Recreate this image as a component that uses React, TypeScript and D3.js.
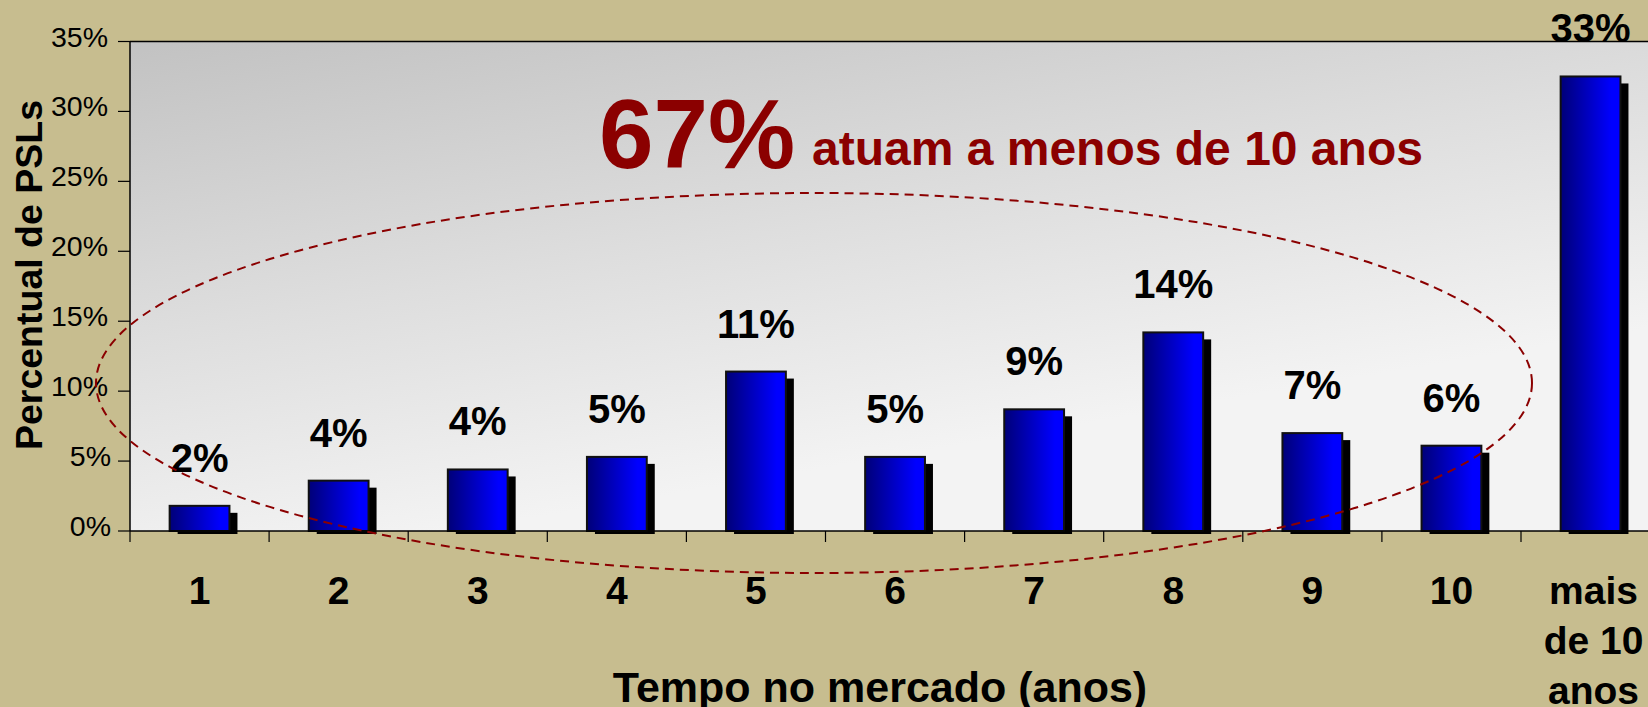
import React from "react";
import * as d3 from "d3";

const categories = ["1", "2", "3", "4", "5", "6", "7", "8", "9", "10", "mais de 10 anos"];
const values = [1.8, 3.6, 4.4, 5.3, 11.4, 5.3, 8.7, 14.2, 7.0, 6.1, 32.5];
const valueLabels = ["2%", "4%", "4%", "5%", "11%", "5%", "9%", "14%", "7%", "6%", "33%"];
const yTicks = [0, 5, 10, 15, 20, 25, 30, 35];

const W = 1648;
const H = 707;
const FONT = "'Liberation Sans', Arial, Helvetica, sans-serif";

export default function App() {
  const left = 130;
  const top = 41.5;
  const bottom = 531;
  const bandW = 139.1;
  const right = left + bandW * categories.length;

  const x = d3.scaleBand<string>().domain(categories).range([left, right]).padding(0);
  const y = d3.scaleLinear().domain([0, 35]).range([bottom, top]);
  const barW = x.bandwidth() * 0.43;
  const tickPositions = d3.range(categories.length + 1).map((i) => left + i * x.step());

  const ellipse = { cx: 814, cy: 383, rx: 718, ry: 190 };

  return (
    <svg
      width={W}
      height={H}
      style={{ position: "absolute", left: 0, top: 0, display: "block" }}
      fontFamily={FONT}
    >
      <defs>
        <linearGradient id="plotBg" gradientUnits="userSpaceOnUse" x1={left} y1={top} x2={left + 90} y2={bottom + 40}>
          <stop offset="0" stopColor="#C2C2C2" />
          <stop offset="0.55" stopColor="#DEDEDE" />
          <stop offset="1" stopColor="#F3F3F3" />
        </linearGradient>
        <linearGradient id="barGrad" x1="0" y1="0" x2="1" y2="0">
          <stop offset="0" stopColor="#000078" />
          <stop offset="0.85" stopColor="#0000FF" />
          <stop offset="1" stopColor="#0000FF" />
        </linearGradient>
      </defs>
      <rect x={0} y={0} width={W} height={H} fill="#C7BD8F" />
      <rect x={left} y={top} width={right - left} height={bottom - top} fill="url(#plotBg)" />
      <line x1={left} x2={right} y1={top} y2={top} stroke="#000" strokeWidth={1.5} />

      {/* bars */}
      {categories.map((c, i) => {
        const cx = (x(c) as number) + x.bandwidth() / 2;
        const bx = cx - barW / 2;
        const by = y(values[i]);
        return (
          <g key={c}>
            <rect x={bx + 8} y={by + 7} width={barW} height={bottom + 3 - (by + 7)} fill="#000" />
            <rect
              x={bx}
              y={by}
              width={barW}
              height={bottom - by}
              fill="url(#barGrad)"
              stroke="#111"
              strokeWidth={2}
            />
            <text
              x={cx}
              y={by - 34}
              textAnchor="middle"
              fontSize={40}
              fontWeight="bold"
              fill="#000"
            >
              {valueLabels[i]}
            </text>
          </g>
        );
      })}

      {/* axes */}
      <line x1={left} x2={left} y1={top} y2={bottom} stroke="#000" strokeWidth={1.5} />
      <line x1={left} x2={right} y1={bottom} y2={bottom} stroke="#000" strokeWidth={1.5} />
      {yTicks.map((t) => (
        <g key={t}>
          <line x1={118} x2={left} y1={y(t)} y2={y(t)} stroke="#000" strokeWidth={1.2} />
          <text x={t < 10 ? 111 : 108} y={y(t) + 5} textAnchor="end" fontSize={28.5} fill="#000">
            {t + "%"}
          </text>
        </g>
      ))}
      {tickPositions.map((p, i) => (
        <line key={i} x1={p} x2={p} y1={bottom} y2={bottom + 11} stroke="#000" strokeWidth={1.2} />
      ))}
      {categories.map((c) => {
        const cx = (x(c) as number) + x.bandwidth() / 2;
        const words = c === "mais de 10 anos" ? ["mais", "de 10", "anos"] : [c];
        return (
          <text key={c} x={words.length > 1 ? cx + 3 : cx} y={604} textAnchor="middle" fontSize={39} fontWeight="bold">
            {words.map((w, j) => (
              <tspan key={j} x={words.length > 1 ? cx + 3 : cx} dy={j === 0 ? 0 : 50}>
                {w}
              </tspan>
            ))}
          </text>
        );
      })}

      {/* ellipse */}
      <ellipse
        cx={ellipse.cx}
        cy={ellipse.cy}
        rx={ellipse.rx}
        ry={ellipse.ry}
        fill="none"
        stroke="#8B0000"
        strokeWidth={2}
        strokeDasharray="9 6"
      />

      {/* annotation */}
      <text x={599} y={168} fontSize={98} fontWeight="bold" fill="#8B0000">
        67%
      </text>
      <text x={812} y={165} fontSize={48} fontWeight="bold" fill="#8B0000">
        atuam a menos de 10 anos
      </text>

      {/* axis titles */}
      <text
        transform="translate(42,275) rotate(-90)"
        textAnchor="middle"
        fontSize={37.5}
        fontWeight="bold"
      >
        Percentual de PSLs
      </text>
      <text x={880} y={702} textAnchor="middle" fontSize={43} fontWeight="bold">
        Tempo no mercado (anos)
      </text>
    </svg>
  );
}
